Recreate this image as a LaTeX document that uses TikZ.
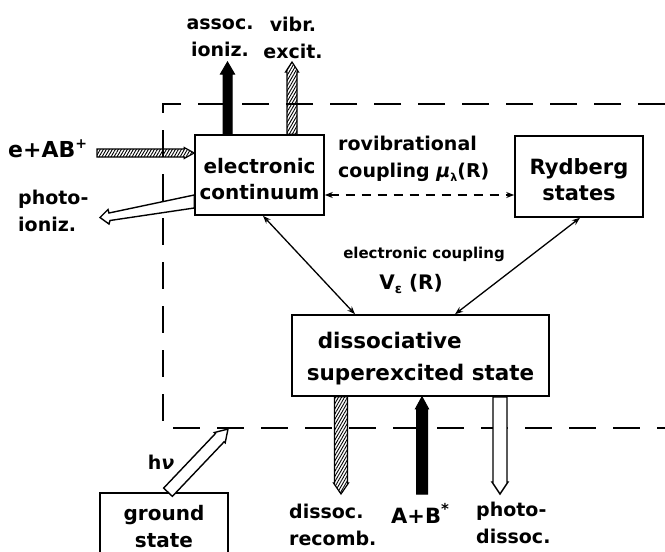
\documentclass[tikz,border=0pt]{standalone}
\usepackage{fontspec}
\setmainfont{DejaVu Sans}
\usetikzlibrary{arrows.meta,patterns.meta,calc}

% fat arrow: #1 style, #2 from, #3 to, #4 shaft half width, #5 head half width, #6 head length
\newcommand\fatarrow[6]{%
  \coordinate (fa-h) at ($(#3)!#6!(#2)$);
  \draw[#1] ($(#2)!#4!90:(#3)$) -- ($(fa-h)!#4!90:(#3)$) -- ($(fa-h)!#5!90:(#3)$) -- (#3)
    -- ($(fa-h)!#5!-90:(#3)$) -- ($(fa-h)!#4!-90:(#3)$) -- ($(#2)!#4!-90:(#3)$) -- cycle;}

\begin{document}
\begin{tikzpicture}[x=1pt,y=-1pt,
  box/.style={draw, line width=1.6pt, inner sep=0pt},
  boxtext/.style={inner sep=0pt, align=center, font=\bfseries\fontsize{20}{26}\selectfont},
  lab/.style={inner sep=0pt, align=center, font=\bfseries\fontsize{19}{27}\selectfont},
  frame/.style={line width=1.8pt, dash pattern=on 27pt off 17pt},
  cpl/.style={line width=1.3pt, {Stealth[length=8pt,width=6pt]}-{Stealth[length=8pt,width=6pt]}},
  blackarrow/.style={fill=black, draw=black, line width=1pt},
  hatcharrow/.style={draw=black, line width=1.2pt,
    pattern={Lines[angle=60,distance=2.6pt,line width=0.9pt]}},
  openarrow/.style={draw=black, fill=white, line width=1.4pt, line join=miter}]
\useasboundingbox (0,0) rectangle (665,552);

% dashed frame
\draw[frame] (665,104) -- (163,104) -- (163,428) -- (665,428);

% boxes
\node[box, minimum width=129pt, minimum height=80pt] (cont) at (259.5,175) {};
\node[boxtext] (cont-t) at ($(cont.center)+(0,4)$) {electronic\\continuum};
\node[box, minimum width=128pt, minimum height=81pt] (ryd) at (579,176.5) {};
\node[boxtext, font=\bfseries\fontsize{21}{26}\selectfont] (ryd-t) at ($(ryd.center)+(0,3.5)$) {Rydberg\\states};
\node[box, minimum width=257pt, minimum height=81pt] (diss) at (420.5,355.5) {};
\node[boxtext, align=left, font=\bfseries\fontsize{21.5}{32}\selectfont] (diss-t) at ($(diss.center)+(0,3.5)$)
  {\hspace*{11pt}dissociative\\superexcited state};
\node[box, minimum width=128pt, minimum height=68pt] (ground) at (164,527) {};
\node[boxtext, font=\bfseries\fontsize{20}{27}\selectfont] (ground-t) at (ground.center) {ground\\state};

% free ends
\coordinate (ai) at (227.5,62);
\coordinate (ve) at (292,62);
\coordinate (eab) at (97,153);
\coordinate (pi) at (100,217.5);
\coordinate (dr) at (341,494);
\coordinate (ab) at (422,494);
\coordinate (pd) at (500,494);
\coordinate (hv) at (228,429);

\coordinate (ai0) at (cont.north -| ai);
\coordinate (ve0) at (cont.north -| ve);
\coordinate (eab0) at (cont.west |- eab);
\coordinate (dr0) at (diss.south -| dr);
\coordinate (ab0) at (diss.south -| ab);
\coordinate (pd0) at (diss.south -| pd);
\coordinate (gs0) at (ground.north -| 168,0);

% fat arrows
\fatarrow{blackarrow}{ai0}{ai}{4.5pt}{7pt}{12pt}
\fatarrow{hatcharrow}{ve0}{ve}{5pt}{6.5pt}{10pt}
\fatarrow{hatcharrow}{eab}{eab0}{4pt}{5.5pt}{10pt}
\fatarrow{hatcharrow}{dr0}{dr}{6.5pt}{7.5pt}{11pt}
\fatarrow{blackarrow}{ab}{ab0}{5.5pt}{6.5pt}{12pt}
\fatarrow{openarrow}{pd0}{pd}{7pt}{8pt}{12pt}
\fatarrow{openarrow}{gs0}{hv}{6pt}{7.5pt}{12pt}

% photoionization wedge arrow
\draw[openarrow] (cont.west |- 0,195) -- (109,213) -- (108,209.5) -- (pi) -- (109,224) -- (110,220.5)
  -- (cont.west |- 0,208) -- cycle;

% couplings
\draw[cpl] (cont.south -| 263,0) -- (diss.north -| 355,0);
\draw[cpl] (ryd.south -| 580,0) -- (diss.north -| 455,0);
\draw[cpl, dash pattern=on 9pt off 7pt] (cont.east |- 0,195) -- (ryd.west |- 0,195);

% labels
\node[lab] (l-ai) at (220,38) {assoc.\\ioniz.};
\node[lab] (l-ve) at (293,38) {vibr.\\excit.};
\node[lab, anchor=west, font=\bfseries\fontsize{22}{27}\selectfont] (l-eab) at (8,149) {e+AB\raisebox{9pt}{\fontsize{14}{14}\selectfont +}};
\node[lab, align=left, anchor=west] (l-pi) at (18,211) {photo-\\ioniz.};
\node[lab, align=left, anchor=west] (l-rv) at (338,159) {rovibrational\\coupling \textit{μ}\raisebox{-4pt}{\fontsize{11}{11}\selectfont λ}(R)};
\node[lab, font=\bfseries\fontsize{15}{22}\selectfont] (l-ec) at (424,254) {electronic coupling};
\node[lab, font=\bfseries\fontsize{20}{27}\selectfont] (l-v) at (411,284) {V\raisebox{-4pt}{\fontsize{13}{13}\selectfont ε} (R)};
\node[lab, align=left, anchor=west] (l-dr) at (289,525) {dissoc.\\recomb.};
\node[lab, font=\bfseries\fontsize{21}{27}\selectfont] (l-ab) at (420,513) {A+B\raisebox{9pt}{\fontsize{15}{15}\selectfont *}};
\node[lab, align=left, anchor=west] (l-pd) at (476,523) {photo-\\dissoc.};
\node[lab] (l-hv) at (161,462) {h\textit{ν}};
\end{tikzpicture}
\end{document}
